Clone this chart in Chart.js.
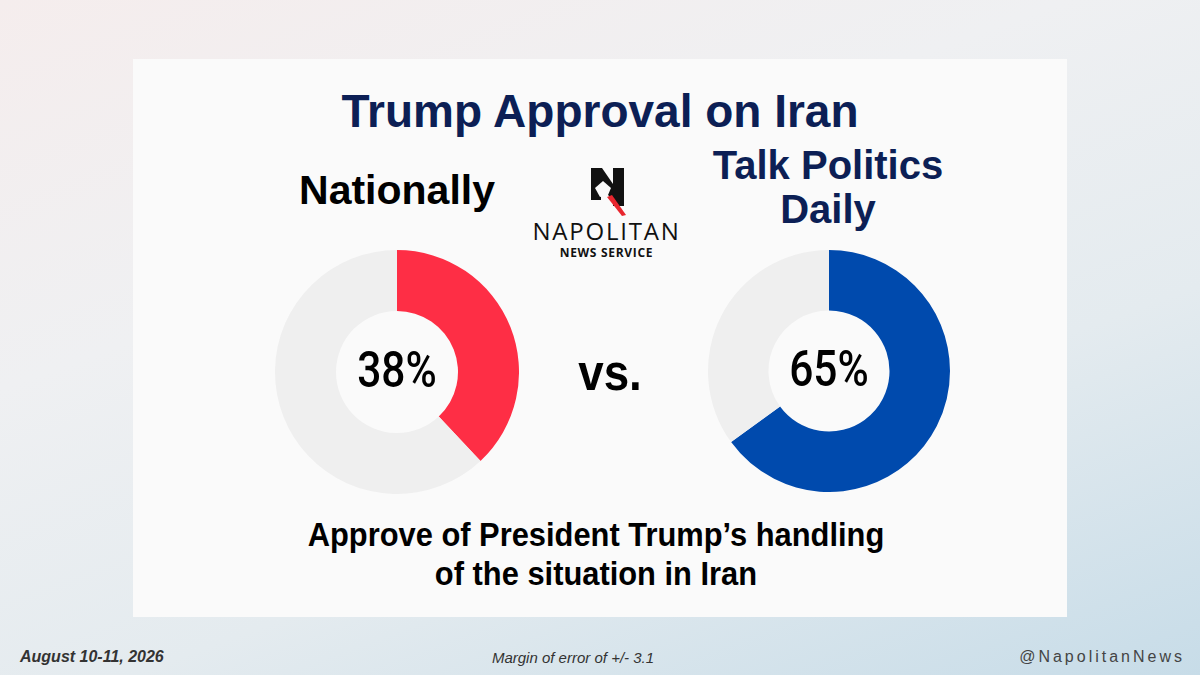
<!DOCTYPE html>
<html>
<head>
<meta charset="utf-8">
<script src="https://cdn.jsdelivr.net/npm/chart.js@4.4.1/dist/chart.umd.min.js"></script>
<style>
  html, body { margin: 0; padding: 0; }
  body {
    width: 1200px; height: 675px; position: relative; overflow: hidden;
    font-family: "Liberation Sans", Arial, sans-serif;
    background: linear-gradient(160deg, #f5eded 0%, #eff0f2 35%, #e4ebef 65%, #c7dce8 100%);
  }
  .panel { position: absolute; left: 133px; top: 59px; width: 934px; height: 558px; background: #fafafa; }
  .txt { position: absolute; white-space: nowrap; transform-origin: center center; }
  .title { left: 0; width: 1200px; text-align: center; top: 84px; font-size: 46px; font-weight: bold; color: #0c1f55; }
  .nat { left: 297px; width: 200px; text-align: center; top: 167px; font-size: 41px; font-weight: bold; color: #000; }
  .tpd { left: 678px; width: 300px; text-align: center; top: 143px; font-size: 40px; line-height: 44px; font-weight: bold; color: #0c1f55; }
  .vs { left: 560px; width: 100px; text-align: center; top: 342px; font-size: 52px; font-weight: bold; color: #000; transform: scaleX(0.88); }
  .sub { left: 0; width: 1192px; text-align: center; top: 515px; font-size: 33px; line-height: 39px; font-weight: bold; color: #000; transform: scaleX(0.935); }
  .foot-l { left: 20px; top: 648px; font-size: 16px; font-weight: bold; font-style: italic; color: #333; }
  .foot-c { left: 473px; width: 200px; text-align: center; top: 649px; font-size: 15px; font-style: italic; color: #333; }
  .foot-r { right: 15px; top: 648px; font-size: 16px; letter-spacing: 3px; color: #444; }
  .brand { left: 500px; width: 213px; text-align: center; top: 219px; font-family: "Open Sans", sans-serif; color: #111; }
  .brand .b1 { display: block; font-size: 24px; line-height: 24px; font-weight: 400; letter-spacing: 1.8px; }
  .brand .b2 { display: block; margin-top: 4px; font-size: 12px; line-height: 12px; font-weight: 700; letter-spacing: 0.7px; }
  canvas { position: absolute; }
  #natChart { left: 275px; top: 250px; }
  #tpdChart { left: 708px; top: 250px; }
  svg { position: absolute; left: 588px; top: 166px; }
</style>
</head>
<body>
<div class="panel"></div>
<div class="txt title">Trump Approval on Iran</div>
<div class="txt nat">Nationally</div>
<div class="txt tpd">Talk Politics<br>Daily</div>
<div class="txt vs">vs.</div>
<div class="txt sub">Approve of President Trump’s handling<br>of the situation in Iran</div>

<svg width="40" height="52" viewBox="0 0 40 52">
  <rect x="3" y="2" width="10" height="32" fill="#111"/>
  <rect x="25" y="2" width="11" height="38" fill="#111"/>
  <polygon points="3,2 14,2 36,34 36,40 30,40 3,10" fill="#111"/>
  <polygon points="7,22 15,15 23,22 20,29 12,31" fill="#fafafa"/>
  <polygon points="19,31 24,29 38,49 34,50" fill="#e8262e"/>
</svg>
<div class="txt brand"><span class="b1">NAPOLITAN</span><span class="b2">NEWS SERVICE</span></div>

<canvas id="natChart" width="244" height="244" style="width:244px;height:244px"></canvas>
<canvas id="tpdChart" width="242" height="242" style="width:242px;height:242px"></canvas>

<div class="txt foot-l">August 10-11, 2026</div>
<div class="txt foot-c">Margin of error of +/- 3.1</div>
<div class="txt foot-r">@NapolitanNews</div>

<script>
// approve / not approve
const segments = ["Approve", "Other"];
const nationalValues = [38, 62];
const tpdValues = [65, 35];
const centerLabels = ["38%", "65%"];

const restColor = "#efefef";

// draws the percentage in the hole
const centerText = {
   id: "centerText",
   afterDraw(chart, args, opts) {
      const ctx = chart.ctx;
      const meta = chart.getDatasetMeta(0).data[0];
      ctx.save();
      ctx.translate(meta.x, meta.y);
      ctx.scale(0.85, 1);
      ctx.font = "500 50px Roboto";
      ctx.fillStyle = "#000";
      ctx.textAlign = "center";
      ctx.textBaseline = "middle";
      ctx.fillText(opts.text, 0, 2);
      ctx.restore();
   },
};

function makeDonut(id, values, color, label) {
   const ctx = document.getElementById(id).getContext("2d");
   return new Chart(ctx, {
      type: "doughnut",
      data: {
         labels: segments,
         datasets: [
            {
               data: values,
               backgroundColor: [color, restColor],
               borderWidth: 0,
               hoverOffset: 0,
            },
         ],
      },
      options: {
         responsive: false,
         animation: false,
         cutout: "50%",
         layout: { padding: 0 },
         plugins: {
            legend: { display: false },
            tooltip: { enabled: false },
            centerText: { text: label },
         },
      },
      plugins: [centerText],
   });
}

makeDonut("natChart", nationalValues, "#fe2e45", centerLabels[0]);
makeDonut("tpdChart", tpdValues, "#004aad", centerLabels[1]);
</script>
</body>
</html>
